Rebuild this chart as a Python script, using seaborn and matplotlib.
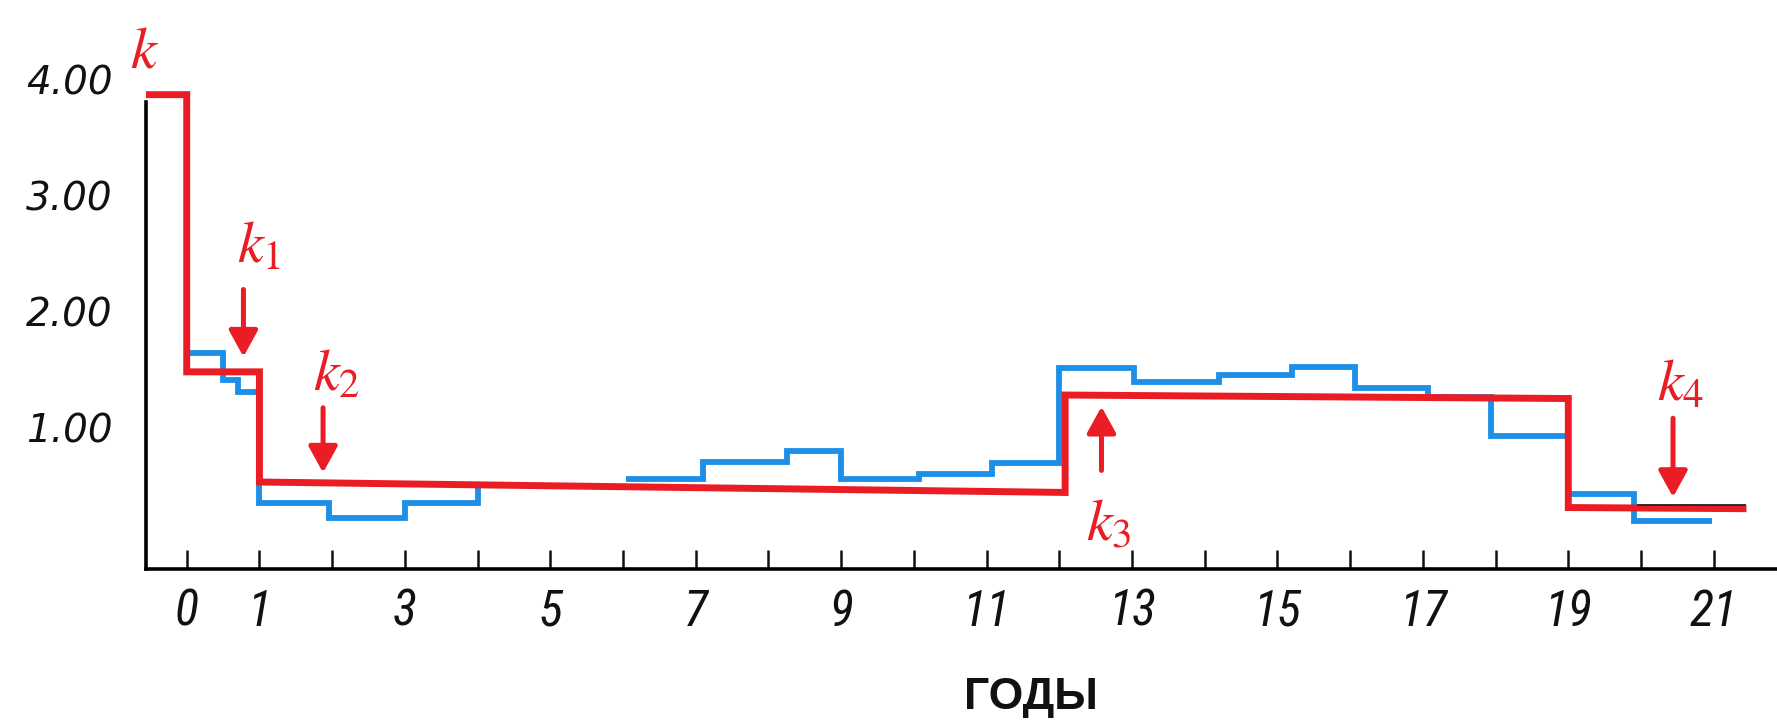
import numpy as np
import pandas as pd
import matplotlib
matplotlib.use("Agg")
import matplotlib.pyplot as plt
import seaborn as sns

# ---------------- data ----------------
# red (model) step line: step edges, value at the start / end of each step
red_edges = [-0.56, 0.0, 1.0, 12.08, 19.0, 21.45]
red_start = [3.87, 1.48, 0.53, 1.28, 0.31]
red_end = [3.87, 1.48, 0.44, 1.25, 0.30]

# blue (observed) step line: step edges and levels (None = not drawn)
blue_edges = [0.0, 0.5, 0.7, 1.0, 1.95, 3.0, 4.0, 6.04, 7.1, 8.25, 9.0, 10.07,
              11.07, 12.0, 13.03, 14.2, 15.2, 16.07, 17.07, 17.93, 19.0, 19.9, 20.97]
blue_levels = [1.64, 1.41, 1.31, 0.35, 0.22, 0.35, None, 0.555, 0.70, 0.80, 0.56,
               0.60, 0.69, 1.51, 1.39, 1.45, 1.52, 1.34, 1.26, 0.93, 0.43, 0.19]
blue_join_v = 0.50   # where the blue line meets the red one at t = 4

# thin dark line drawn along the last red step
black_t = [19.95, 21.45]
black_v = [0.335, 0.335]

x_ticks = list(range(0, 22))
x_labeled = [0, 1, 3, 5, 7, 9, 11, 13, 15, 17, 19, 21]
y_ticks = [1, 2, 3, 4]
y_tick_labels = ["1.00", "2.00", "3.00", "4.00"]

# annotations: label, label position, arrow tail, arrow tip
k_labels = [r"$k_{1}$", r"$k_{2}$", r"$k_{3}$", r"$k_{4}$"]
k_label_t = [0.99, 2.06, 12.68, 20.54]
k_label_v = [2.57, 1.46, 0.17, 1.38]
arrow_t = [0.78, 1.875, 12.58, 20.44]
arrow_tail_v = [2.19, 1.17, 0.63, 1.08]
arrow_tip_v = [1.61, 0.61, 1.18, 0.40]

RED = "#EA1C24"
BLUE = "#1E8FE6"

# ---------------- build tables ----------------
red_rows = []
for i in range(len(red_start)):
    red_rows.append((0, red_edges[i], red_start[i]))
    red_rows.append((0, red_edges[i + 1], red_end[i]))
red_df = pd.DataFrame(red_rows, columns=["run", "t", "k"])

blue_rows = []
run = 0
for i, lev in enumerate(blue_levels):
    if lev is None:
        blue_rows.append((run, blue_edges[i], blue_join_v))
        run += 1
        continue
    blue_rows.append((run, blue_edges[i], lev))
    blue_rows.append((run, blue_edges[i + 1], lev))
blue_df = pd.DataFrame(blue_rows, columns=["run", "t", "k"])

black_df = pd.DataFrame({"t": black_t, "k": black_v})

# ---------------- figure ----------------
sns.set_style("white")
plt.rcParams["mathtext.fontset"] = "stix"

W, H = 1777, 725
fig = plt.figure(figsize=(W / 100, H / 100), dpi=100)
ax = fig.add_axes([146 / W, 1 - 569 / H, 1 - 146 / W, 559 / H])

sns.lineplot(data=blue_df, x="t", y="k", units="run", sort=False, estimator=None,
             color=BLUE, linewidth=4.2, ax=ax, zorder=2)
sns.lineplot(data=red_df, x="t", y="k", sort=False, estimator=None,
             color=RED, linewidth=5.0, ax=ax, zorder=3)
sns.lineplot(data=black_df, x="t", y="k", sort=False, estimator=None,
             color="#222222", linewidth=1.3, ax=ax, zorder=4)
for line in ax.lines:
    line.set_solid_joinstyle("miter")
    line.set_solid_capstyle("butt")

ax.set_xlim(-0.56, 21.87)
ax.set_ylim(-0.22, 4.60)

# spines
for s in ["top", "right"]:
    ax.spines[s].set_visible(False)
ax.spines["left"].set_bounds(-0.22, 3.81)
ax.spines["left"].set_linewidth(2.6)
ax.spines["bottom"].set_linewidth(2.6)
ax.spines["left"].set_color("black")
ax.spines["bottom"].set_color("black")

# ticks
ax.set_xticks(x_ticks)
ax.set_xticklabels([str(v) if v in x_labeled else "" for v in x_ticks],
                   family=["Roboto Condensed", "Liberation Sans Narrow", "DejaVu Sans"],
                   style="italic", fontsize=36, color="#111111")
ax.tick_params(axis="x", direction="in", length=14, width=1.8, pad=14,
               colors="#111111", bottom=True)
ax.set_yticks(y_ticks)
ax.set_yticklabels(y_tick_labels, family="DejaVu Sans", style="italic",
                   fontsize=28, color="#111111")
ax.tick_params(axis="y", length=0, pad=24)

ax.set_xlabel("ГОДЫ", family=["Liberation Sans", "DejaVu Sans"],
              fontweight="bold", fontsize=32, color="#111111")
ax.xaxis.set_label_coords(0.5426, -0.229)
ax.xaxis.label.set_verticalalignment("center")
ax.set_ylabel("")

# red annotations
ax.text(-0.58, 4.25, r"$k$", color=RED, fontsize=42, ha="center",
        va="center", clip_on=False)
for lab, lt, lv in zip(k_labels, k_label_t, k_label_v):
    ax.text(lt, lv, lab, color=RED, fontsize=42, ha="center", va="center")
for at, tv, pv in zip(arrow_t, arrow_tail_v, arrow_tip_v):
    ax.annotate("", xy=(at, pv), xytext=(at, tv),
                arrowprops=dict(arrowstyle="-|>,head_length=0.4,head_width=0.22",
                                color=RED, lw=3.6, mutation_scale=40,
                                shrinkA=0, shrinkB=0), zorder=5)

fig.savefig("out.png", dpi=100, facecolor="white")
